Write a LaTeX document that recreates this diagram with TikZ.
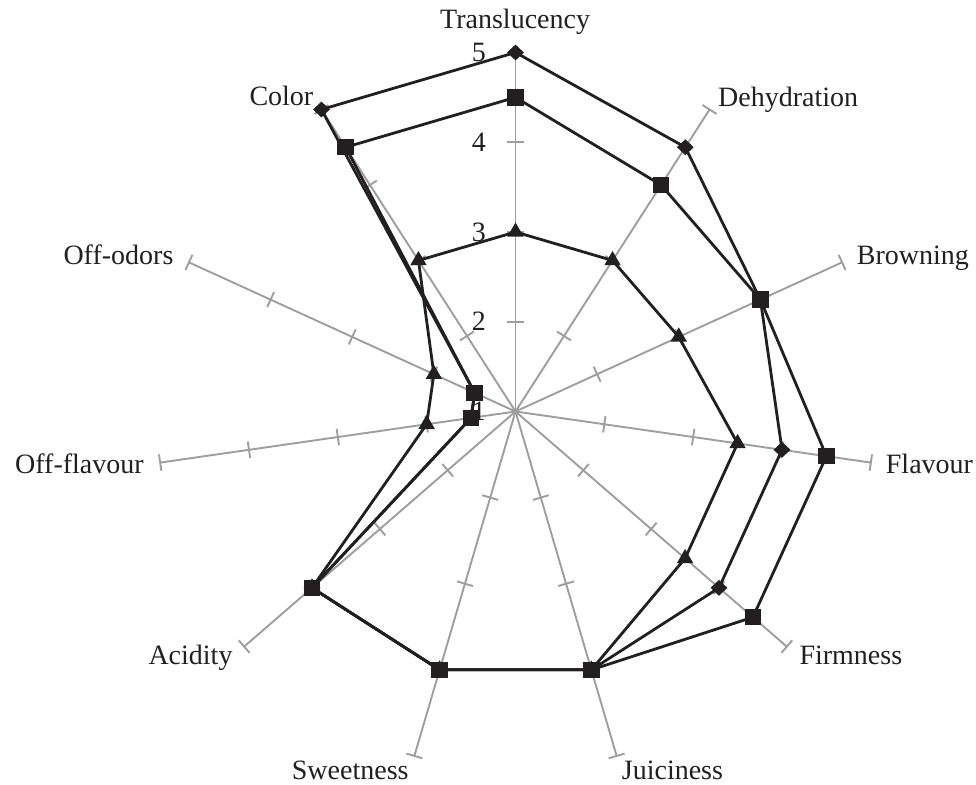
\documentclass[tikz,border=0pt]{standalone}
\usepackage{fontspec}
\setmainfont{Liberation Serif}
\usetikzlibrary{calc,shapes.geometric}
\definecolor{ink}{RGB}{35,31,32}
\definecolor{axisgray}{RGB}{158,158,158}
\begin{document}
\begin{tikzpicture}[x=1pt,y=1pt,
  axisline/.style={draw=axisgray,line width=1.9pt},
  serie/.style={draw=ink,line width=2.8pt,line join=round},
  sqmark/.style={rectangle,fill=ink,minimum size=16.5pt,inner sep=0pt},
  dmmark/.style={diamond,fill=ink,minimum width=17pt,minimum height=16pt,inner sep=0pt},
  trimark/.style={regular polygon,regular polygon sides=3,fill=ink,minimum size=19pt,inner sep=0pt},
  lab/.style={anchor=base west,inner sep=0pt,text depth=0pt,text=ink,font=\fontsize{28}{34}\selectfont},
  num/.style={anchor=base east,inner sep=0pt,text=ink,font=\fontsize{28}{34}\selectfont}]
\useasboundingbox (0,0) rectangle (976,784);
\def\R{359}
\coordinate (C) at (515.5,372.5);
% axes with ticks
\foreach \i in {0,...,10}{
  \pgfmathsetmacro\ang{90-\i*360/11}
  \coordinate (a\i) at ($(C)+(\ang:\R)$);
  \draw[axisline] (C) -- (a\i);
  \foreach \k in {1,2,3,4}{
    \draw[axisline] ($(C)+(\ang:{\k*\R/4})+({\ang+90}:8.3)$) -- ($(C)+(\ang:{\k*\R/4})+({\ang-90}:8.3)$);
  }
}
% scale numbers
\node[num] (n1) at (486,363.5) {1};
\node[num] (n2) at (486,453) {2};
\node[num] (n3) at (486,542.8) {3};
\node[num] (n4) at (486,632.5) {4};
\node[num] (n5) at (486,722.3) {5};
% axis labels
\node[lab] (lTrans) at (440,755) {Translucency};
\node[lab] (lDehy) at (718,677.3) {Dehydration};
\node[lab] (lBrown) at (856.7,519) {Browning};
\node[lab] (lFlav) at (885.7,310.7) {Flavour};
\node[lab] (lFirm) at (799.3,119) {Firmness};
\node[lab] (lJuic) at (621.7,4.5) {Juiciness};
\node[lab] (lSweet) at (291.7,4.5) {Sweetness};
\node[lab] (lAcid) at (148.3,119) {Acidity};
\node[lab] (lOffFl) at (15,310.7) {Off-flavour};
\node[lab] (lOffOd) at (63.3,519) {Off-odors};
\node[lab] (lColor) at (249.3,678) {Color};
% data points
\foreach \i/\v in {0/5,1/4.5,2/4,3/4,4/4,5/4,6/4,7/4,8/1.5,9/1.5,10/5}{
  \coordinate (d\i) at ($(C)+({90-\i*360/11}:{(\v-1)*\R/4})$);
}
\foreach \i/\v in {0/4.5,1/4,2/4,3/4.5,4/4.5,5/4,6/4,7/4,8/1.5,9/1.5,10/4.5}{
  \coordinate (s\i) at ($(C)+({90-\i*360/11}:{(\v-1)*\R/4})$);
}
\foreach \i/\v in {0/3,1/3,2/3,3/3.5,4/3.5,5/4,6/4,7/4,8/2,9/2,10/3}{
  \coordinate (t\i) at ($(C)+({90-\i*360/11}:{(\v-1)*\R/4})$);
}
% series lines
\draw[serie] (d0) -- (d1) -- (d2) -- (d3) -- (d4) -- (d5) -- (d6) -- (d7) -- (d8) -- (d9) -- (d10) -- cycle;
\draw[serie] (t0) -- (t1) -- (t2) -- (t3) -- (t4) -- (t5) -- (t6) -- (t7) -- (t8) -- (t9) -- (t10) -- cycle;
\draw[serie] (s0) -- (s1) -- (s2) -- (s3) -- (s4) -- (s5) -- (s6) -- (s7) -- (s8) -- (s9) -- (s10) -- cycle;
% markers
\foreach \i in {0,...,10}{ \node[dmmark] (md\i) at (d\i) {}; }
\foreach \i in {0,...,10}{ \node[trimark] (mt\i) at (t\i) {}; }
\foreach \i in {0,...,10}{ \node[sqmark] (ms\i) at (s\i) {}; }
\end{tikzpicture}
\end{document}
